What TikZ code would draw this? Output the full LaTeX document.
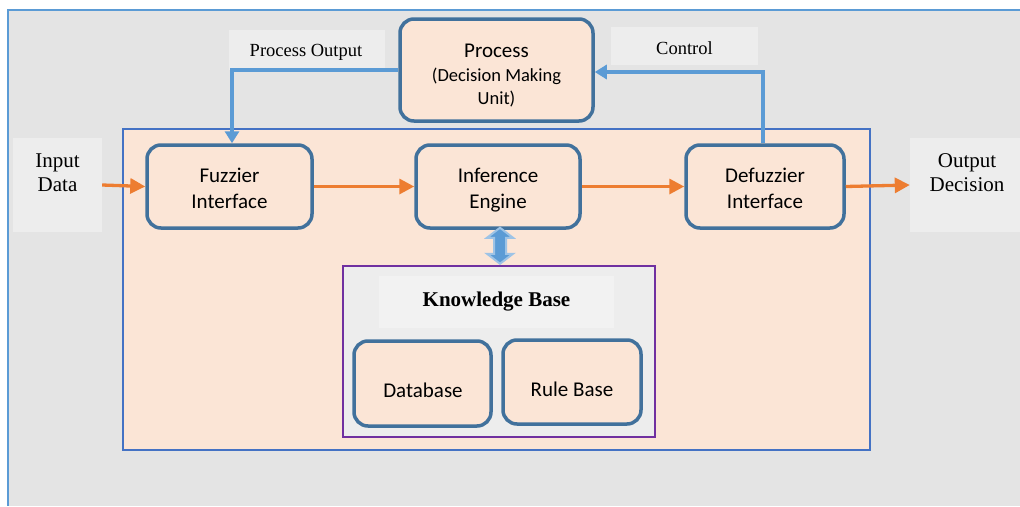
\documentclass[tikz,border=0pt]{standalone}
\usepackage{fontspec}
\setmainfont{Liberation Serif}
\newfontfamily\boxfont{Carlito}
\usetikzlibrary{arrows.meta}
\definecolor{bggray}{HTML}{E4E4E4}
\definecolor{lblgray}{HTML}{EDEDED}
\definecolor{kbtitle}{HTML}{F2F2F2}
\definecolor{peach}{HTML}{FBE5D6}
\definecolor{boxblue}{HTML}{41719C}
\definecolor{frameblue}{HTML}{4472C4}
\definecolor{lineblue}{HTML}{5B9BD5}
\definecolor{paleblue}{HTML}{9DC3E6}
\definecolor{flow}{HTML}{ED7D31}
\definecolor{kbpurple}{HTML}{7030A0}
\tikzset{
  rbox/.style={draw=boxblue, line width=3.5pt, fill=peach, rounded corners=14pt, inner sep=0pt},
  btext/.style={font=\boxfont\fontsize{21}{26}\selectfont, align=center, inner sep=0pt},
  lbl/.style={fill=lblgray, inner sep=0pt},
  ltext/.style={font=\fontsize{21}{24}\selectfont, align=center, inner sep=0pt},
  flowarrow/.style={draw=flow, line width=3.3pt, -{Triangle[length=15pt,width=15pt]}},
  fbarrow/.style={draw=lineblue, line width=3.5pt, -{Triangle[length=12pt,width=14pt]}},
}
\begin{document}
\begin{tikzpicture}[x=1pt,y=-1pt]
\useasboundingbox (0,0) rectangle (1020,506);
\fill[white] (0,0) rectangle (1020,506);
% outer panel
\fill[bggray] (8,10) rectangle (1020,506);
\draw[lineblue, line width=2.5pt] (1020,10) -- (8,10) -- (8,506);
% fuzzy system frame
\node[draw=frameblue, line width=2pt, fill=peach, minimum width=747pt, minimum height=321pt, inner sep=0pt]
  (sys) at (496.5,289.5) {};
% side labels
\node[lbl, minimum width=89pt, minimum height=94pt] (in) at (57.5,185) {};
\node[ltext] (intext) at (57.5,173) {Input\\Data};
\node[lbl, minimum width=112pt, minimum height=94pt] (out) at (966,185) {};
\node[ltext] (outtext) at (967,173) {Output\\Decision};
\node[lbl, minimum width=156pt, minimum height=40pt] (polbl) at (307,50) {};
\node[font=\fontsize{18.5}{22}\selectfont, inner sep=0pt] (poltext) at (306,52) {Process Output};
\node[lbl, minimum width=147pt, minimum height=38pt] (ctlbl) at (684.5,46) {};
\node[font=\fontsize{18.5}{22}\selectfont, inner sep=0pt] (ctltext) at (684.5,48) {Control};
% process unit
\node[rbox, minimum width=193pt, minimum height=102pt] (proc) at (496.5,70) {};
\node[btext] (proctext) at (496.5,51) {Process};
\node[font=\boxfont\fontsize{18.5}{23}\selectfont, align=center, inner sep=0pt] (procsub) at (496.5,88)
  {(Decision Making\\Unit)};
% main chain
\node[rbox, minimum width=165pt, minimum height=83pt] (fuz) at (229.5,186.5) {};
\node[btext] (fuztext) at (229.5,188.5) {Fuzzier\\Interface};
\node[rbox, minimum width=164pt, minimum height=83pt] (inf) at (498,186.5) {};
\node[btext] (inftext) at (498,190.5) {Inference\\Engine};
\node[rbox, minimum width=158pt, minimum height=83pt] (def) at (765,186.5) {};
\node[btext] (deftext) at (765,188.5) {Defuzzier\\Interface};
% knowledge base
\node[draw=kbpurple, line width=2pt, fill=lblgray, minimum width=312pt, minimum height=171pt, inner sep=0pt]
  (kb) at (499,351.5) {};
\node[fill=kbtitle, minimum width=235pt, minimum height=52pt, inner sep=0pt,
  font=\bfseries\fontsize{21}{24}\selectfont] (kbt) at (496.5,302) {Knowledge Base};
\node[rbox, minimum width=137pt, minimum height=85pt] (db) at (422.5,383.5) {};
\node[btext] (dbt) at (423,390) {Database};
\node[rbox, minimum width=138pt, minimum height=84pt] (rb) at (572,382) {};
\node[btext] (rbt) at (572,389) {Rule Base};
% signal flow
\draw[flowarrow] (in.east) -- (fuz.west);
\draw[flowarrow] (fuz.east) -- (inf.west);
\draw[flowarrow] (inf.east) -- (def.west);
\draw[flowarrow] (def.east) -- (out.west);
% feedback paths
\draw[fbarrow] (proc.west |- 0,70) -| ([xshift=2.5pt]fuz.north);
\draw[fbarrow] ([xshift=-2pt]def.north) |- (proc.east |- 0,72);
% inference engine <-> knowledge base
\filldraw[fill=lineblue, draw=paleblue, line width=2pt, line join=miter]
  ([xshift=2pt,yshift=2pt]inf.south) -- ++(13,10) -- ++(-7,0) -- ++(0,16) -- ++(7,0)
  -- ++(-13,10) -- ++(-13,-10) -- ++(7,0) -- ++(0,-16) -- ++(-7,0) -- cycle;
\end{tikzpicture}
\end{document}
